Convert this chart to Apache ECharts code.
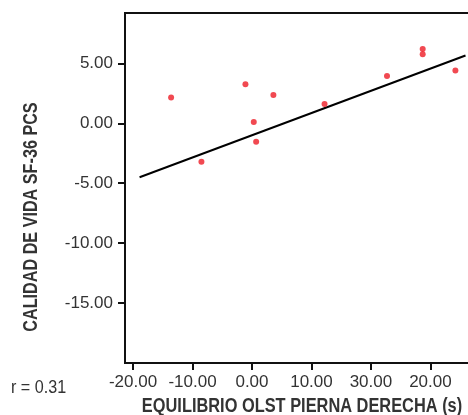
<!DOCTYPE html>
<html lang="es">
<head>
    <meta charset="UTF-8">
    <title>Equilibrio OLST vs calidad de vida</title>
    <script src="https://cdn.jsdelivr.net/npm/echarts@6.0.0/dist/echarts.min.js"></script>
    <style>
        html, body { margin: 0; padding: 0; background: #fff; }
        #chart { width: 468px; height: 415px; }
    </style>
</head>
<body>
    <div id="chart"></div>
    <script>
        // datos
        const equilibrioX = [-13.6, -8.5, -1.1, 0.3, 0.7, 3.6, 12.2, 22.7, 28.7, 28.7, 34.2];
        const calidadY = [2.15, -3.2, 3.25, 0.1, -1.55, 2.35, 1.6, 3.95, 6.2, 5.75, 4.4];
        // recta de regresion (extremos)
        const rectaX = [-18.9, 35.9];
        const rectaY = [-4.5, 5.65];
        // marcas de los ejes (las etiquetas del eje x son tal cual aparecen)
        const xTickValues = [-20, -10, 0, 10, 20, 30];
        const xTickLabels = ['-20.00', '-10.00', '0.00', '10.00', '30.00', '20.00'];
        const yTickValues = [-15, -10, -5, 0, 5];

        const font = '"Liberation Sans", Arial, sans-serif';

        const puntos = equilibrioX.map((x, i) => [x, calidadY[i]]);
        const recta = rectaX.map((x, i) => [x, rectaY[i]]);

        const chart = echarts.init(document.getElementById('chart'));
        chart.setOption({
            animation: false,
            grid: {
                left: 125, top: 13, bottom: 52, right: -10,
                outerBoundsMode: 'none',
                show: true, borderColor: '#111', borderWidth: 2, backgroundColor: 'transparent'
            },
            xAxis: {
                type: 'value',
                min: -21.35, max: 38,
                splitLine: { show: false },
                axisLine: { onZero: false, lineStyle: { color: '#111', width: 2 } },
                axisTick: { customValues: xTickValues, length: 7, lineStyle: { color: '#111', width: 2 } },
                axisLabel: {
                    customValues: xTickValues,
                    hideOverlap: false,
                    margin: 11,
                    fontFamily: font, fontSize: 17, color: '#333',
                    formatter: v => xTickLabels[xTickValues.indexOf(v)]
                }
            },
            yAxis: {
                type: 'value',
                min: -20, max: 9.2,
                splitLine: { show: false },
                axisLine: { onZero: false, lineStyle: { color: '#111', width: 2 } },
                axisTick: { customValues: yTickValues, length: 7, lineStyle: { color: '#111', width: 2 } },
                axisLabel: {
                    customValues: yTickValues,
                    margin: 12,
                    fontFamily: font, fontSize: 17, color: '#333',
                    formatter: v => v.toFixed(2)
                }
            },
            graphic: [
                {
                    type: 'text',
                    x: 32, y: 217,
                    rotation: Math.PI / 2,
                    scaleX: 0.83,
                    style: {
                        text: 'CALIDAD DE VIDA SF-36 PCS',
                        fontFamily: font, fontSize: 19.5, fontWeight: 'bold', fill: '#333',
                        align: 'center', verticalAlign: 'middle'
                    }
                },
                {
                    type: 'text',
                    x: 302, y: 406.5,
                    scaleX: 0.84,
                    style: {
                        text: 'EQUILIBRIO OLST PIERNA DERECHA (s)',
                        fontFamily: font, fontSize: 19.5, fontWeight: 'bold', fill: '#333',
                        align: 'center', verticalAlign: 'middle'
                    }
                },
                {
                    type: 'text',
                    x: 11, y: 388,
                    scaleX: 0.85,
                    style: {
                        text: 'r = 0.31', fontFamily: font, fontSize: 19, fill: '#333',
                        verticalAlign: 'middle'
                    }
                }
            ],
            series: [
                {
                    type: 'line',
                    data: recta,
                    symbol: 'none',
                    lineStyle: { color: '#000', width: 2 },
                    z: 2
                },
                {
                    type: 'scatter',
                    data: puntos,
                    symbolSize: 6,
                    itemStyle: { color: '#ee1c25' },
                    z: 3
                }
            ]
        });
    </script>
</body>
</html>
